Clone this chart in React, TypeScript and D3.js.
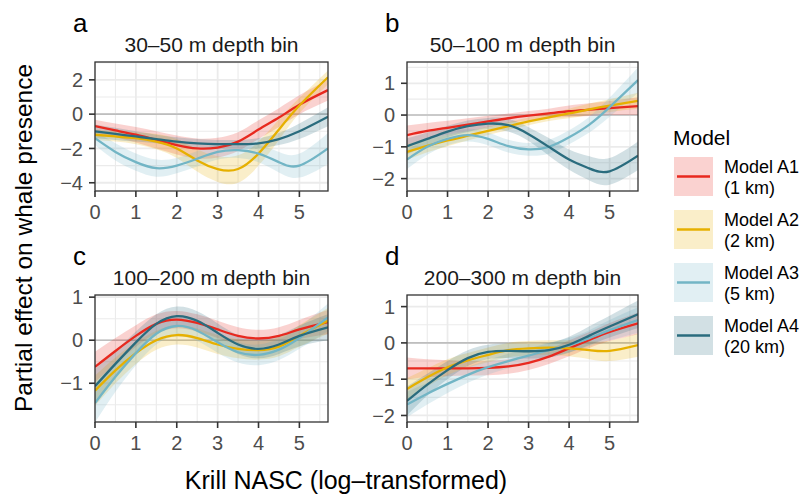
import { useRef, useEffect } from 'react';
import * as d3 from 'd3';

const xs = [0, 0.5, 1, 1.5, 2, 2.5, 3, 3.5, 4, 4.5, 5, 5.7];
const models = ['Model A1', 'Model A2', 'Model A3', 'Model A4'];
const modelSub = ['(1 km)', '(2 km)', '(5 km)', '(20 km)'];
const colors = ['#E8291F', '#E6B000', '#72B5C5', '#2A6C7E'];

const letters = ['a', 'b', 'c', 'd'];
const titles = ['30\u201350 m depth bin', '50\u2013100 m depth bin', '100\u2013200 m depth bin', '200\u2013300 m depth bin'];
const xTicks = [0, 1, 2, 3, 4, 5];
const yTicksA = [-4, -2, 0, 2];
const yTicksB = [-2, -1, 0, 1];
const yTicksC = [-1, 0, 1];
const yTicksD = [-2, -1, 0, 1];

// fitted partial effects, per depth bin and model
const aA1 = [-0.7, -0.95, -1.2, -1.5, -1.8, -2.0, -1.95, -1.6, -0.9, -0.2, 0.55, 1.4];
const aA2 = [-1.2, -1.3, -1.4, -1.6, -2.0, -2.7, -3.2, -3.2, -2.3, -0.9, 0.5, 2.15];
const aA3 = [-1.4, -2.2, -2.8, -3.15, -3.0, -2.6, -2.2, -2.1, -2.3, -2.8, -3.0, -2.0];
const aA4 = [-1.0, -1.15, -1.3, -1.45, -1.6, -1.7, -1.75, -1.75, -1.7, -1.45, -1.0, -0.15];
const bA1 = [-0.63, -0.5, -0.4, -0.3, -0.2, -0.1, -0.02, 0.05, 0.12, 0.17, 0.22, 0.28];
const bA2 = [-1.16, -0.97, -0.8, -0.65, -0.5, -0.35, -0.2, -0.07, 0.05, 0.18, 0.3, 0.45];
const bA3 = [-1.4, -1.0, -0.75, -0.63, -0.75, -0.98, -1.08, -1.0, -0.7, -0.3, 0.25, 1.1];
const bA4 = [-0.98, -0.75, -0.52, -0.35, -0.27, -0.32, -0.6, -1.0, -1.4, -1.68, -1.77, -1.28];
const cA1 = [-0.62, -0.25, 0.1, 0.38, 0.48, 0.4, 0.25, 0.1, 0.04, 0.1, 0.25, 0.42];
const cA2 = [-1.17, -0.7, -0.3, 0.0, 0.12, 0.05, -0.1, -0.2, -0.23, -0.15, 0.1, 0.45];
const cA3 = [-1.46, -0.85, -0.3, 0.15, 0.33, 0.22, -0.05, -0.28, -0.34, -0.22, 0.05, 0.53];
const cA4 = [-1.07, -0.55, -0.05, 0.38, 0.56, 0.45, 0.17, -0.1, -0.2, -0.1, 0.1, 0.3];
const dA1 = [-0.7, -0.7, -0.7, -0.7, -0.69, -0.65, -0.55, -0.38, -0.15, 0.08, 0.3, 0.54];
const dA2 = [-1.27, -0.95, -0.67, -0.48, -0.33, -0.2, -0.15, -0.13, -0.15, -0.2, -0.22, -0.06];
const dA3 = [-1.7, -1.4, -1.13, -0.88, -0.67, -0.5, -0.35, -0.2, -0.06, 0.13, 0.35, 0.63];
const dA4 = [-1.6, -1.15, -0.75, -0.42, -0.25, -0.22, -0.23, -0.2, -0.05, 0.2, 0.45, 0.79];

// confidence band half-widths
const aA1se = [0.38, 0.4, 0.45, 0.5, 0.55, 0.58, 0.58, 0.55, 0.55, 0.55, 0.55, 0.6];
const aA2se = [0.3, 0.3, 0.35, 0.45, 0.55, 0.65, 0.75, 0.8, 0.7, 0.6, 0.45, 0.4];
const aA3se = [0.4, 0.5, 0.5, 0.5, 0.45, 0.45, 0.45, 0.45, 0.5, 0.6, 0.7, 0.9];
const aA4se = [0.4, 0.35, 0.3, 0.25, 0.25, 0.25, 0.25, 0.25, 0.3, 0.35, 0.45, 0.55];
const bA1se = [0.3, 0.25, 0.22, 0.2, 0.18, 0.15, 0.15, 0.15, 0.18, 0.2, 0.22, 0.28];
const bA2se = [0.25, 0.2, 0.18, 0.15, 0.13, 0.12, 0.12, 0.12, 0.15, 0.18, 0.2, 0.25];
const bA3se = [0.3, 0.25, 0.2, 0.2, 0.2, 0.2, 0.2, 0.22, 0.22, 0.25, 0.3, 0.4];
const bA4se = [0.25, 0.2, 0.18, 0.18, 0.18, 0.2, 0.22, 0.28, 0.32, 0.38, 0.42, 0.45];
const cA1se = [0.35, 0.3, 0.25, 0.22, 0.2, 0.2, 0.2, 0.2, 0.2, 0.2, 0.22, 0.28];
const cA2se = [0.35, 0.3, 0.25, 0.22, 0.22, 0.22, 0.22, 0.22, 0.22, 0.22, 0.25, 0.3];
const cA3se = [0.45, 0.35, 0.28, 0.25, 0.24, 0.24, 0.24, 0.24, 0.24, 0.24, 0.25, 0.32];
const cA4se = [0.4, 0.3, 0.25, 0.22, 0.22, 0.22, 0.22, 0.22, 0.22, 0.22, 0.24, 0.3];
const dA1se = [0.3, 0.25, 0.22, 0.2, 0.2, 0.2, 0.2, 0.2, 0.22, 0.22, 0.25, 0.3];
const dA2se = [0.3, 0.25, 0.22, 0.2, 0.2, 0.2, 0.2, 0.2, 0.22, 0.25, 0.28, 0.32];
const dA3se = [0.35, 0.3, 0.25, 0.22, 0.2, 0.2, 0.2, 0.2, 0.2, 0.22, 0.28, 0.35];
const dA4se = [0.4, 0.3, 0.25, 0.22, 0.2, 0.2, 0.2, 0.2, 0.22, 0.26, 0.3, 0.38];

const FONT = '"Liberation Sans", Arial, Helvetica, sans-serif';

const panels = [
  { left: 95, right: 328, top: 62, bottom: 191, ydom: [-4.48, 3.04], yticks: yTicksA, fits: [aA1, aA2, aA3, aA4], ses: [aA1se, aA2se, aA3se, aA4se] },
  { left: 407, right: 638, top: 62, bottom: 191, ydom: [-2.39, 1.67], yticks: yTicksB, fits: [bA1, bA2, bA3, bA4], ses: [bA1se, bA2se, bA3se, bA4se] },
  { left: 95, right: 328, top: 295, bottom: 422, ydom: [-1.9, 1.05], yticks: yTicksC, fits: [cA1, cA2, cA3, cA4], ses: [cA1se, cA2se, cA3se, cA4se] },
  { left: 407, right: 638, top: 295, bottom: 422, ydom: [-2.18, 1.32], yticks: yTicksD, fits: [dA1, dA2, dA3, dA4], ses: [dA1se, dA2se, dA3se, dA4se] },
];

function minorsOf(ticks: number[], dom: number[]) {
  const step = ticks[1] - ticks[0];
  const out: number[] = [];
  for (let i = -1; i < ticks.length; i++) {
    const v = ticks[0] + step * i + step / 2;
    if (v > dom[0] && v < dom[1]) out.push(v);
  }
  return out;
}

function App() {
  const svgRef = useRef<SVGSVGElement>(null);

  useEffect(() => {
    const svg = d3.select(svgRef.current);
    svg.selectAll('*').remove();

    panels.forEach((p, pi) => {
      const x = d3.scaleLinear().domain([0, 5.7]).range([p.left, p.right]);
      const y = d3.scaleLinear().domain(p.ydom).range([p.bottom, p.top]);
      const g = svg.append('g');
      const clipId = `clip${pi}`;
      g.append('clipPath').attr('id', clipId)
        .append('rect')
        .attr('x', p.left).attr('y', p.top)
        .attr('width', p.right - p.left).attr('height', p.bottom - p.top);

      // grid
      const grid = g.append('g');
      const xMinor = minorsOf(xTicks, [0, 5.7]);
      const yMinor = minorsOf(p.yticks, p.ydom);
      xMinor.forEach(v => grid.append('line').attr('x1', x(v)).attr('x2', x(v)).attr('y1', p.top).attr('y2', p.bottom)
        .attr('stroke', '#EBEBEB').attr('stroke-width', 1.1));
      yMinor.forEach(v => grid.append('line').attr('x1', p.left).attr('x2', p.right).attr('y1', y(v)).attr('y2', y(v))
        .attr('stroke', '#EBEBEB').attr('stroke-width', 1.1));
      xTicks.forEach(v => grid.append('line').attr('x1', x(v)).attr('x2', x(v)).attr('y1', p.top).attr('y2', p.bottom)
        .attr('stroke', '#EBEBEB').attr('stroke-width', 1.8));
      p.yticks.forEach(v => grid.append('line').attr('x1', p.left).attr('x2', p.right).attr('y1', y(v)).attr('y2', y(v))
        .attr('stroke', '#EBEBEB').attr('stroke-width', 1.8));

      // zero reference
      g.append('line').attr('x1', p.left).attr('x2', p.right).attr('y1', y(0)).attr('y2', y(0))
        .attr('stroke', '#BEBEBE').attr('stroke-width', 1.6);

      const plot = g.append('g').attr('clip-path', `url(#${clipId})`);
      const area = d3.area<number>()
        .x((_, i) => x(xs[i]))
        .curve(d3.curveNatural);
      const line = d3.line<number>()
        .x((_, i) => x(xs[i]))
        .y(d => y(d))
        .curve(d3.curveNatural);

      p.fits.forEach((fit, mi) => {
        const se = p.ses[mi];
        plot.append('path')
          .datum(fit)
          .attr('fill', colors[mi])
          .attr('fill-opacity', 0.21)
          .attr('d', area.y0((d, i) => y(d - se[i])).y1((d, i) => y(d + se[i])));
      });
      p.fits.forEach((fit, mi) => {
        plot.append('path')
          .datum(fit)
          .attr('fill', 'none')
          .attr('stroke', colors[mi])
          .attr('stroke-width', 2.3)
          .attr('d', line);
      });

      // border
      g.append('rect').attr('x', p.left).attr('y', p.top)
        .attr('width', p.right - p.left).attr('height', p.bottom - p.top)
        .attr('fill', 'none').attr('stroke', '#333333').attr('stroke-width', 1.3);

      // axes ticks
      xTicks.forEach(v => {
        g.append('line').attr('x1', x(v)).attr('x2', x(v)).attr('y1', p.bottom).attr('y2', p.bottom + 6)
          .attr('stroke', '#333333').attr('stroke-width', 1.6);
        g.append('text').attr('x', x(v)).attr('y', p.bottom + 28)
          .attr('text-anchor', 'middle').attr('fill', '#4D4D4D')
          .style('font-family', FONT).style('font-size', '20px')
          .text(String(v));
      });
      p.yticks.forEach(v => {
        g.append('line').attr('x1', p.left - 6).attr('x2', p.left).attr('y1', y(v)).attr('y2', y(v))
          .attr('stroke', '#333333').attr('stroke-width', 1.6);
        g.append('text').attr('x', p.left - 12).attr('y', y(v)).attr('dy', '0.36em')
          .attr('text-anchor', 'end').attr('fill', '#4D4D4D')
          .style('font-family', FONT).style('font-size', '20px')
          .text(v < 0 ? `\u2212${Math.abs(v)}` : String(v));
      });

      // title and letter
      g.append('text').attr('x', (p.left + p.right) / 2).attr('y', p.top - 10)
        .attr('text-anchor', 'middle').attr('fill', '#1A1A1A')
        .style('font-family', FONT).style('font-size', '21px')
        .text(titles[pi]);
      g.append('text').attr('x', p.left - 22).attr('y', p.top - 30)
        .attr('fill', '#000').style('font-family', FONT).style('font-size', '26px')
        .text(letters[pi]);
    });

    // axis titles
    svg.append('text').attr('x', 346).attr('y', 489)
      .attr('text-anchor', 'middle').attr('fill', '#000')
      .style('font-family', FONT).style('font-size', '25px')
      .text('Krill NASC (log\u2013transformed)');
    svg.append('text').attr('transform', 'translate(32,238) rotate(-90)')
      .attr('text-anchor', 'middle').attr('fill', '#000')
      .style('font-family', FONT).style('font-size', '24.5px')
      .text('Partial effect on whale presence');

    // legend
    const leg = svg.append('g');
    leg.append('text').attr('x', 673).attr('y', 145)
      .attr('fill', '#000').style('font-family', FONT).style('font-size', '21px')
      .text('Model');
    models.forEach((m, i) => {
      const top = 157 + i * 53;
      leg.append('rect').attr('x', 674).attr('y', top).attr('width', 39).attr('height', 39)
        .attr('fill', colors[i]).attr('fill-opacity', 0.21);
      leg.append('line').attr('x1', 677).attr('x2', 710).attr('y1', top + 19.5).attr('y2', top + 19.5)
        .attr('stroke', colors[i]).attr('stroke-width', 2.6);
      leg.append('text').attr('x', 724).attr('y', top + 16)
        .attr('fill', '#000').style('font-family', FONT).style('font-size', '18px')
        .text(m);
      leg.append('text').attr('x', 724).attr('y', top + 37)
        .attr('fill', '#000').style('font-family', FONT).style('font-size', '18px')
        .text(modelSub[i]);
    });
  }, []);

  return (
    <svg ref={svgRef} width={806} height={497}
      style={{ position: 'absolute', left: 0, top: 0, background: '#fff' }} />
  );
}

export default App;
